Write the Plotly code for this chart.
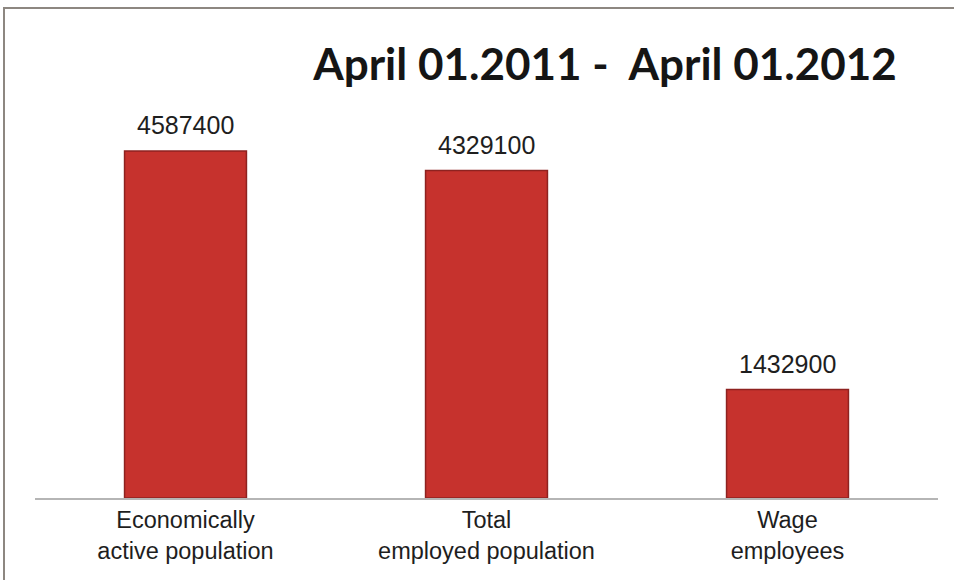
import plotly.graph_objects as go

categories = ["Economically<br>active population", "Total<br>employed population", "Wage<br>employees"]
values = [4587400, 4329100, 1432900]
title_text = "April 01.2011 -  April 01.2012"

W, H = 954, 580
ml, mr, mt, mb = 35, 16, 40, 82
plot_w = W - ml - mr
plot_h = H - mt - mb
ymax = max(values) * plot_h / 347.0

fig = go.Figure()
fig.add_trace(go.Bar(
    x=categories, y=values, width=0.405,
    marker=dict(color="#c6322d", line=dict(color="#8e2220", width=1.5)),
    hoverinfo="x+y",
))
for c, v in zip(categories, values):
    fig.add_annotation(x=c, y=v, text=str(v), showarrow=False, yanchor="bottom", yshift=10,
                       font=dict(family="Liberation Sans, Arial", size=25, color="#1e1e1e"))

# frame around the chart
fig.add_shape(type="rect", xref="paper", yref="paper",
              x0=(4 - ml) / plot_w, x1=(W + 10 - ml) / plot_w,
              y0=-0.5, y1=(H - mb - 8) / plot_h,
              line=dict(color="#8d8781", width=2), fillcolor="rgba(0,0,0,0)", layer="below")

fig.update_layout(
    width=W, height=H,
    margin=dict(l=ml, r=mr, t=mt, b=mb),
    paper_bgcolor="white", plot_bgcolor="white",
    showlegend=False,
    title=dict(text="<b>" + title_text + "</b>", x=605 / W, xanchor="center",
               y=1 - 65 / H, yanchor="middle",
               font=dict(family="Lato", size=44, color="#151515")),
    bargap=0.595,
)
fig.update_xaxes(showline=True, linecolor="#b5b5b5", linewidth=2, ticks="", showgrid=False,
                 tickfont=dict(family="Liberation Sans, Arial", size=23.5, color="#1e1e1e"))
fig.update_yaxes(range=[0, ymax], visible=False, showgrid=False)

fig.write_html("out.html")
